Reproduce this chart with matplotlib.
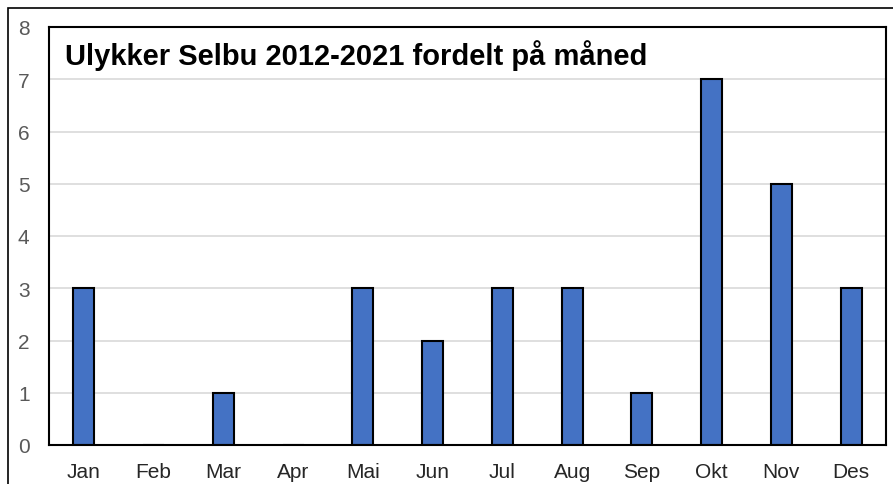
import matplotlib.pyplot as plt
import matplotlib.patches as patches

months = ['Jan', 'Feb', 'Mar', 'Apr', 'Mai', 'Jun', 'Jul', 'Aug', 'Sep', 'Okt', 'Nov', 'Des']
counts = [3, 0, 1, 0, 3, 2, 3, 3, 1, 7, 5, 3]
title = 'Ulykker Selbu 2012-2021 fordelt på måned'

plt.rcParams['font.family'] = ['Liberation Sans', 'DejaVu Sans']

fig = plt.figure(figsize=(8.93, 4.85), dpi=100)
ax = fig.add_axes([49 / 893, 39 / 485, 837 / 893, 418 / 485])

x = list(range(len(months)))
ax.bar(x, counts, width=0.3, color='#4472C4', edgecolor='black', linewidth=1.5, zorder=3)

ax.set_xlim(-0.5, len(months) - 0.5)
ax.set_ylim(0, 8)
ax.set_yticks(range(0, 9))
ax.set_xticks(x)
ax.set_xticklabels(months)
ax.yaxis.grid(True, color='#D9D9D9', linewidth=1.2, zorder=0)
ax.tick_params(axis='both', length=0, labelsize=15)
ax.tick_params(axis='y', pad=14, labelcolor='#595959')
ax.tick_params(axis='x', pad=12, labelcolor='#262626')
for s in ax.spines.values():
    s.set_color('black')
    s.set_linewidth(1.5)
    s.set_zorder(4)

ax.text(0.019, 0.933, title, transform=ax.transAxes, fontsize=21, fontweight='bold',
        va='center', ha='left', color='black')

# outer chart border (only left and top edges are inside the image)
fig.patches.append(patches.Rectangle((8 / 893, -0.1), 1.0, 1.1 - 9 / 485, transform=fig.transFigure,
                                     fill=False, edgecolor='black', linewidth=1.2))

fig.savefig('out.png', dpi=100)
